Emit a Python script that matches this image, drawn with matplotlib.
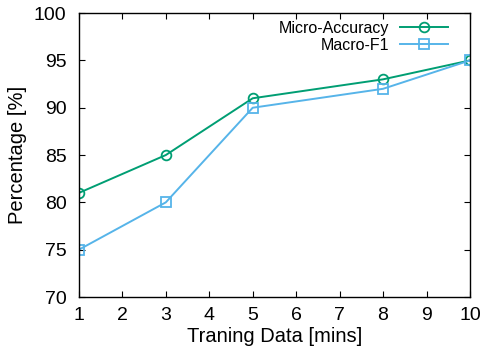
import matplotlib
matplotlib.use("Agg")
import matplotlib.pyplot as plt

# Data
minutes = [1, 3, 5, 8, 10]
micro_accuracy = [81, 85, 91, 93, 95]
macro_f1 = [75, 80, 90, 92, 95]

plt.rcParams['font.family'] = ['Liberation Sans', 'DejaVu Sans']

fig = plt.figure(figsize=(4.84, 3.54), dpi=100)
ax = fig.add_axes([0.163, 0.161, 0.808, 0.802])

ax.plot(minutes, micro_accuracy, color='#009E73', lw=1.4, marker='o',
        markersize=7, markerfacecolor='none', markeredgewidth=1.3,
        label='Micro-Accuracy')
ax.plot(minutes, macro_f1, color='#56B4E9', lw=1.4, marker='s',
        markersize=7, markerfacecolor='none', markeredgewidth=1.3,
        label='Macro-F1')

ax.set_xlim(1, 10)
ax.set_ylim(70, 100)
ax.set_xticks(range(1, 11))
ax.set_yticks(range(70, 101, 5))
ax.tick_params(direction='in', top=True, right=True, labelsize=14,
               length=4, width=0.8)
ax.tick_params(axis='y', pad=9)
ax.tick_params(axis='x', pad=7)
for s in ax.spines.values():
    s.set_linewidth(1.0)

ax.set_xlabel("Traning Data [mins]", fontsize=14.5, labelpad=2)
ax.set_ylabel("Percentage [%]", fontsize=14.5, labelpad=5)

ax.legend(loc='upper right', frameon=False, markerfirst=False, fontsize=11.5,
          handlelength=3.0, borderaxespad=0.1, labelspacing=0.1,
          handletextpad=0.7, bbox_to_anchor=(0.965, 1.0))

fig.savefig("out.png", dpi=100)
